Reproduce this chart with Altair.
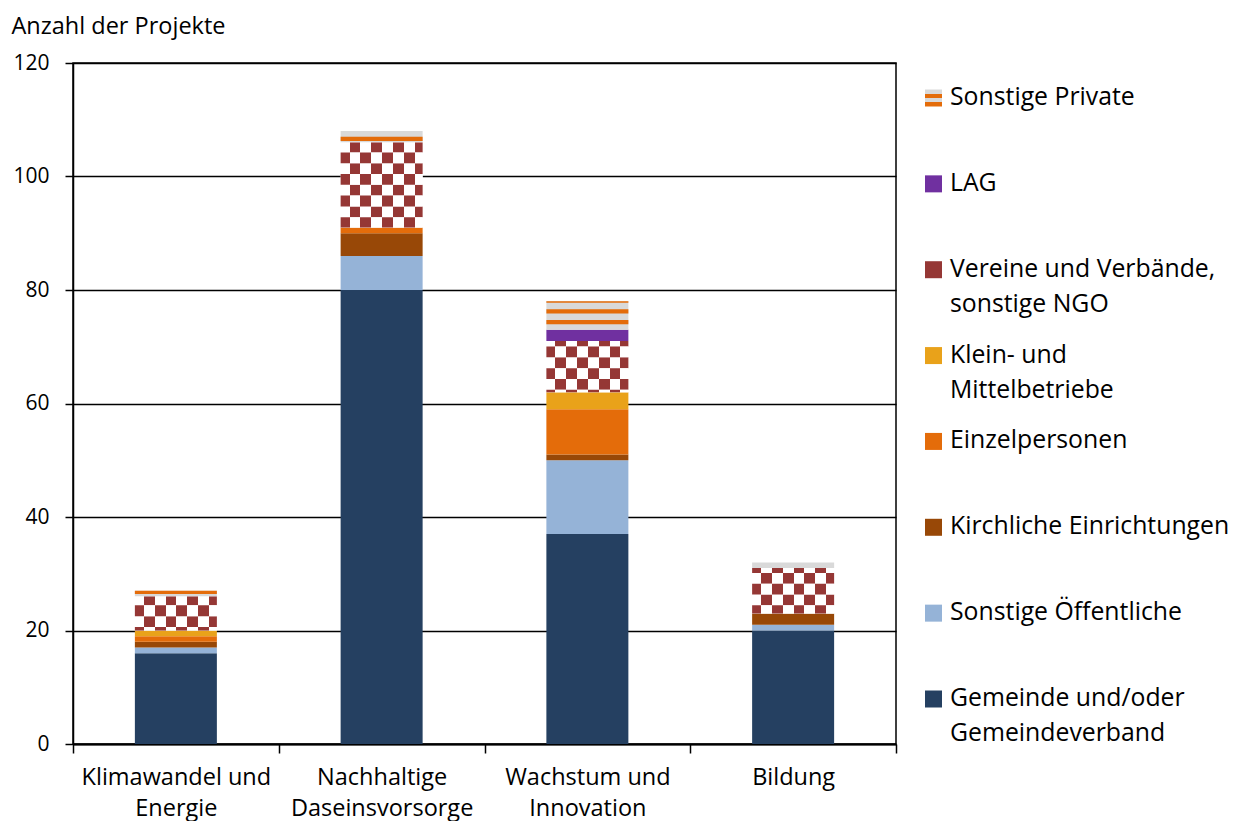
import math
import altair as alt
import pandas as pd

# ---------------- data ----------------
categories = ["Klimawandel und|Energie", "Nachhaltige|Daseinsvorsorge",
              "Wachstum und|Innovation", "Bildung"]

series_names = ["Gemeinde und/oder Gemeindeverband", "Sonstige Öffentliche",
                "Kirchliche Einrichtungen", "Einzelpersonen",
                "Klein- und Mittelbetriebe", "Vereine und Verbände, sonstige NGO",
                "LAG", "Sonstige Private"]

gemeinde = [16, 80, 37, 20]
sonstige_oeffentliche = [1, 6, 13, 1]
kirchliche = [1, 4, 1, 2]
einzelpersonen = [1, 1, 8, 0]
klein_mittel = [1, 0, 3, 0]
vereine = [6, 15, 9, 8]
lag = [0, 0, 2, 0]
sonstige_private = [1, 2, 5, 1]

series_values = [gemeinde, sonstige_oeffentliche, kirchliche, einzelpersonen,
                 klein_mittel, vereine, lag, sonstige_private]

legend_line1 = ["Gemeinde und/oder", "Sonstige Öffentliche", "Kirchliche Einrichtungen",
                "Einzelpersonen", "Klein- und", "Vereine und Verbände,", "LAG",
                "Sonstige Private"]
legend_line2 = ["Gemeindeverband", "", "", "", "Mittelbetriebe", "sonstige NGO", "", ""]

# ---------------- styles ----------------
NAVY = "#254061"
LBLUE = "#95B3D7"
BROWN = "#984807"
ORANGE = "#E46C0A"
GOLD = "#E9A21A"
RED = "#953735"
PURPLE = "#7030A0"
GRAY = "#D9D9D9"
base_fill = [NAVY, LBLUE, BROWN, ORANGE, GOLD, "#FFFFFF", PURPLE, GRAY]
legend_fill = [NAVY, LBLUE, BROWN, ORANGE, GOLD, RED, PURPLE, GRAY]

FONT = "Open Sans"
W, H = 823, 681

# ---------------- derived tables ----------------
seg_rows = []
for ci, cat in enumerate(categories):
    base = 0
    for si, s in enumerate(series_names):
        v = series_values[si][ci]
        if v > 0:
            seg_rows.append(dict(cat=cat, series=s, y0=base, y1=base + v,
                                 fill=base_fill[si]))
        base += v
seg = pd.DataFrame(seg_rows)

# checker rows for "Vereine" segments, stripe bands for "Sonstige Private"
P = 1.9
checker_rows, stripe_rows = [], []
for _, r in seg.iterrows():
    a, b = r["y0"], r["y1"]
    if r["series"] == series_names[5]:
        off = 1.63
        for k in range(math.floor((a - off) / P), math.ceil((b - off) / P)):
            lo, hi = max(a, off + k * P), min(b, off + (k + 1) * P)
            if hi - lo > 0.02:
                checker_rows.append(dict(cat=r["cat"], y0=lo, y1=hi, parity=k % 2))
    if r["series"] == series_names[7]:
        off = 1.75
        for k in range(math.floor((a - off) / P) - 1, math.ceil((b - off) / P) + 1):
            lo, hi = max(a, off + k * P), min(b, off + k * P + 0.75)
            if hi - lo > 0.02:
                stripe_rows.append(dict(cat=r["cat"], y0=lo, y1=hi))
checker = pd.DataFrame(checker_rows)
stripes = pd.DataFrame(stripe_rows)


def checker_stops(first_red, invert=False):
    sq = 0.132
    stops = []
    pos = 0.0
    edge = first_red
    red = invert
    while pos < 1.0:
        end = min(edge, 1.0)
        c = RED if red else "#FFFFFF"
        stops.append(alt.GradientStop(color=c, offset=round(pos, 4)))
        stops.append(alt.GradientStop(color=c, offset=round(end, 4)))
        pos = end
        red = not red
        edge = pos + sq
    return stops


grad_even = alt.LinearGradient(gradient="linear", x1=0, y1=0, x2=1, y2=0,
                               stops=checker_stops(0.11))
grad_odd = alt.LinearGradient(gradient="linear", x1=0, y1=0, x2=1, y2=0,
                              stops=checker_stops(0.11, invert=True))

legend_stripe = alt.LinearGradient(
    gradient="linear", x1=0, y1=0, x2=0, y2=1,
    stops=[alt.GradientStop(color=GRAY, offset=0), alt.GradientStop(color=GRAY, offset=0.25),
           alt.GradientStop(color=ORANGE, offset=0.25), alt.GradientStop(color=ORANGE, offset=0.5),
           alt.GradientStop(color=GRAY, offset=0.5), alt.GradientStop(color=GRAY, offset=0.75),
           alt.GradientStop(color=ORANGE, offset=0.75), alt.GradientStop(color=ORANGE, offset=1)])

# ---------------- main chart ----------------
x_enc = alt.X("cat:N", sort=categories,
              scale=alt.Scale(paddingInner=0, paddingOuter=0),
              axis=alt.Axis(title=None, labelAngle=0, labelExpr="split(datum.label, '|')",
                            labelFont=FONT, labelFontSize=23.5, labelColor="black",
                            labelLineHeight=31, labelPadding=12, labelLimit=400,
                            tickBand="extent", tickSize=9, tickColor="black", tickWidth=1.5,
                            domainColor="black", domainWidth=2, grid=False))
y_enc = alt.Y("y0:Q", scale=alt.Scale(domain=[0, 120], nice=False),
              axis=alt.Axis(values=[0, 20, 40, 60, 80, 100, 120],
                            title="Anzahl der Projekte", titleAngle=0, titleAlign="left",
                            titleBaseline="alphabetic", titleX=-62, titleY=-30,
                            titleFont=FONT, titleFontSize=23.5, titleFontWeight="normal",
                            titleColor="black", titleLimit=400,
                            labelFont=FONT, labelFontSize=21, labelColor="black",
                            labelPadding=16, tickSize=8, tickColor="black", tickWidth=1.5,
                            domainColor="black", domainWidth=1.5,
                            grid=True, gridColor="black", gridWidth=1.3))

bars = alt.Chart(seg).mark_bar(size=82).encode(
    x=x_enc, y=y_enc, y2="y1:Q", fill=alt.Fill("fill:N", scale=None))

checker_even = alt.Chart(checker).transform_filter("datum.parity == 0").mark_bar(
    size=82, fill=grad_even).encode(x=x_enc, y=y_enc, y2="y1:Q")
checker_odd = alt.Chart(checker).transform_filter("datum.parity == 1").mark_bar(
    size=82, fill=grad_odd).encode(x=x_enc, y=y_enc, y2="y1:Q")
stripe_layer = alt.Chart(stripes).mark_bar(size=82, fill=ORANGE).encode(
    x=x_enc, y=y_enc, y2="y1:Q")

main = alt.layer(bars, checker_even, checker_odd, stripe_layer).properties(
    width=W, height=H, view=alt.ViewBackground(stroke="black", strokeWidth=1.5))

# ---------------- legend ----------------
keys = list(reversed(series_names))
leg = pd.DataFrame(dict(key=series_names, line1=legend_line1, line2=legend_line2,
                        fill=legend_fill))
leg_y = alt.Y("key:N", sort=keys,
              scale=alt.Scale(type="point", range=[35, 636], padding=0), axis=None)

sym = alt.Chart(leg).transform_filter(
    alt.datum.key != series_names[7]).mark_square(size=289, opacity=1).encode(
    x=alt.value(8.5), y=leg_y, fill=alt.Fill("fill:N", scale=None))
sym_striped = alt.Chart(leg).transform_filter(
    alt.datum.key == series_names[7]).mark_square(size=289, opacity=1, fill=legend_stripe).encode(
    x=alt.value(8.5), y=leg_y)
txt1 = alt.Chart(leg).mark_text(align="left", baseline="middle", font=FONT, fontSize=24.8,
                                color="black").encode(x=alt.value(25), y=leg_y, text="line1:N")
txt2 = alt.Chart(leg).mark_text(align="left", baseline="middle", font=FONT, fontSize=24.8,
                                color="black", dy=35).encode(x=alt.value(25), y=leg_y, text="line2:N")

legend = alt.layer(sym, sym_striped, txt1, txt2).properties(
    width=280, height=H, view=alt.ViewBackground(stroke="transparent"))

chart = alt.hconcat(main, legend, spacing=26).properties(
    padding={"left": 2, "top": 5, "right": 0, "bottom": 0})

chart.save("out.html", embed_options={"renderer": "svg", "actions": False})
